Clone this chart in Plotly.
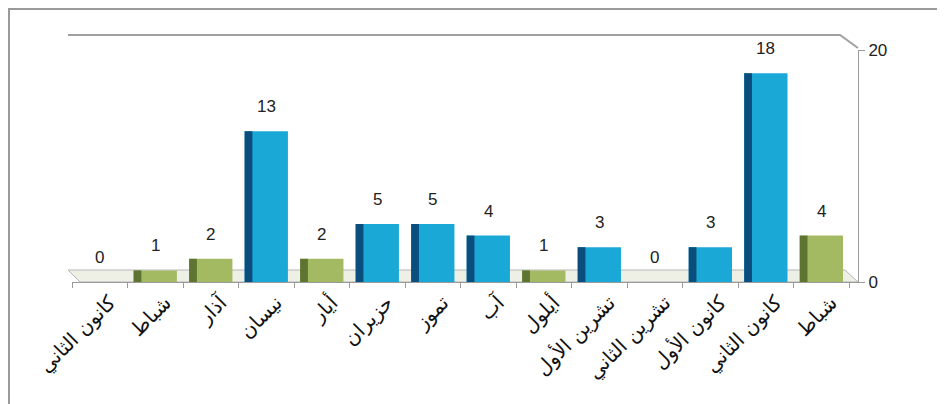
import plotly.graph_objects as go

months = ["كانون الثاني", "شباط", "آذار", "نيسان", "أيار", "حزيران", "تموز",
          "آب", "أيلول", "تشرين الأول", "تشرين الثاني", "كانون الأول", "كانون الثاني", "شباط"]
values = [0, 1, 2, 13, 2, 5, 5, 4, 1, 3, 0, 3, 18, 4]
groups = ["g", "g", "g", "b", "g", "b", "b", "b", "g", "b", "g", "b", "b", "g"]
y_ticks = [0, 20]

face = {"b": "#1aa9d6", "g": "#a3ba62"}
edge = {"b": "#0b4d7c", "g": "#5e7431"}

x = list(range(len(months)))
OFF = 8  # browser body margin
L, PW, PH, T = 72, 786, 232, 50  # page coordinates of plot area
FW, FH = 945 - OFF, 404 - OFF

def px(v):
    return (v - L) / PW

def py(v):
    return (T + PH - v) / PH

fig = go.Figure()
fig.add_trace(go.Bar(
    x=x, y=values, width=0.78,
    marker=dict(color=[face[g] for g in groups], line=dict(width=0)),
    hoverinfo="skip", showlegend=False,
))
fig.add_trace(go.Bar(
    x=x, y=values, width=0.14, offset=-0.39,
    marker=dict(color=[edge[g] for g in groups], line=dict(width=0)),
    hoverinfo="skip", showlegend=False,
))

annotations = [
    dict(x=xi, y=v, text=str(v), showarrow=False, yanchor="bottom", yshift=13,
         font=dict(size=17, color="#222", family="Liberation Sans, Arial, sans-serif"))
    for xi, v in zip(x, values)
]

fig.update_layout(
    width=FW, height=FH,
    margin=dict(l=L - OFF, r=FW - (L - OFF) - PW, t=T - OFF, b=FH - (T - OFF) - PH,
                autoexpand=False),
    paper_bgcolor="white", plot_bgcolor="white",
    barmode="overlay",
    font=dict(family="DejaVu Sans, sans-serif", color="#222"),
    annotations=annotations,
    xaxis=dict(
        range=[-0.5, 13.66], tickmode="array", tickvals=x, ticktext=months,
        tickangle=-45, tickfont=dict(size=20, color="#111"), automargin=False,
        ticklabelshift=10,
        showgrid=False, zeroline=False, showline=True, linecolor="#9a9a9a",
        linewidth=1, ticks="",
        minor=dict(ticks="outside", tick0=-0.5, dtick=1, ticklen=5, tickcolor="#9a9a9a"),
    ),
    yaxis=dict(
        range=[0, 20], side="right", tickvals=y_ticks, showgrid=False, zeroline=False,
        showline=True, linecolor="#9a9a9a", ticks="outside", ticklen=6, automargin=False,
        tickcolor="#9a9a9a", tickfont=dict(size=17, color="#222",
                                          family="Liberation Sans, Arial, sans-serif"),
    ),
    shapes=[
        dict(type="rect", xref="paper", yref="paper",
             x0=px(9), x1=px(960), y0=py(420), y1=py(9),
             line=dict(color="#9a9a9a", width=2), fillcolor="rgba(0,0,0,0)", layer="below"),
        dict(type="path", xref="paper", yref="paper",
             path=f"M {px(68)} {py(35)} L {px(840)} {py(35)} L {px(858)} {py(48)}",
             line=dict(color="#a0a0a0", width=2)),
        dict(type="path", xref="paper", yref="paper",
             path=f"M {px(68)} {py(270)} L {px(845)} {py(270)} L {px(858)} {py(282)} L {px(80)} {py(282)} Z",
             line=dict(color="#b5b5b5", width=1), fillcolor="#eef0e6", layer="below"),
    ],
)

fig.write_html("out.html")
